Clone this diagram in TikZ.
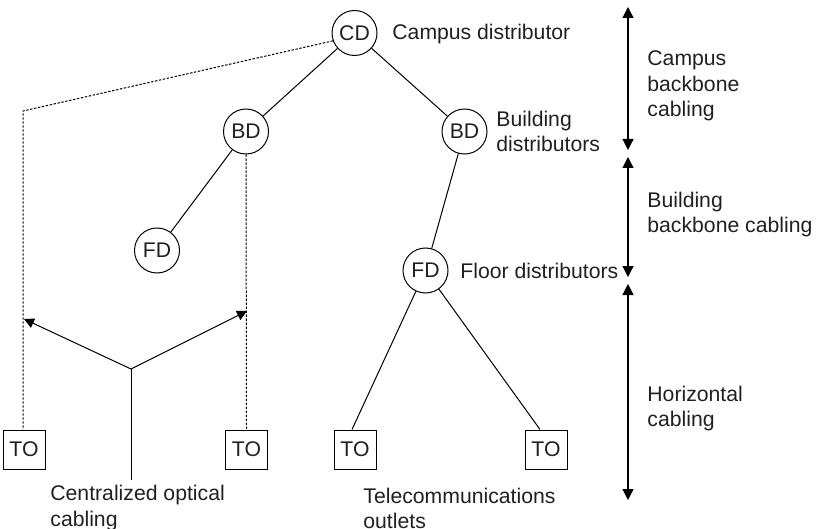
\documentclass[tikz,border=0pt]{standalone}
\usepackage{fontspec}
\setmainfont{Liberation Sans}
\usetikzlibrary{arrows.meta}
\definecolor{ink}{HTML}{231F20}
\tikzset{
  dist/.style={circle, draw, line width=0.5pt, minimum size=22.5pt, inner sep=0pt, text=ink},
  outlet/.style={rectangle, draw, line width=0.5pt, minimum width=21pt, minimum height=19.5pt, inner sep=0pt, text=ink},
  lbl/.style={anchor=west, align=left, inner sep=0pt, text=ink},
  cable/.style={line width=0.5pt},
  optical/.style={line width=0.5pt, dash pattern=on 1.2pt off 0.8pt},
  span/.style={line width=0.6pt, {Triangle[length=5.5pt,width=5.5pt]}-{Triangle[length=5.5pt,width=5.5pt]}},
  feed/.style={line width=0.5pt, -{Triangle[length=5pt,width=5pt]}}
}
\begin{document}
\begin{tikzpicture}[x=0.5pt, y=-0.5pt, font=\fontsize{10.6}{12.6}\selectfont]
\useasboundingbox (0,0) rectangle (823,529);

% distributors
\node[dist] (CD)  at (354.5,33)  {CD};
\node[dist] (BDl) at (246,131.5) {BD};
\node[dist] (BDr) at (464.5,131.5) {BD};
\node[dist] (FDl) at (157,250.5) {FD};
\node[dist] (FDr) at (425.5,270.5) {FD};

% telecommunications outlets
\node[outlet] (TO1) at (24,449.5)  {TO};
\node[outlet] (TO2) at (246.5,449.5) {TO};
\node[outlet] (TO3) at (355,449.5) {TO};
\node[outlet] (TO4) at (546,449.5) {TO};

% backbone and horizontal cabling
\draw[cable] (CD) -- (BDl);
\draw[cable] (CD) -- (BDr);
\draw[cable] (BDl) -- (FDl);
\draw[cable] (BDr) -- (FDr);
\draw[cable] (FDr) -- ([xshift=-1.5pt]TO3.north);
\draw[cable] (FDr) -- ([xshift=-3pt]TO4.north);

% centralized optical cabling
\coordinate (bend) at (23,111);
\draw[optical] (CD.200) -- (bend) -- (bend |- TO1.north);
\draw[optical] (BDl.south) -- (TO2.north);

\coordinate (J)  at (131,369);
\coordinate (Jb) at (131,480);
\coordinate (AL) at (24,319);
\coordinate (AR) at (247,311);
\draw[cable] (Jb) -- (J);
\draw[feed] (J) -- (AL);
\draw[feed] (J) -- (AR);

% labels
\node[lbl] (lCD) at (392,34) {Campus distributor};
\node[lbl] (lBD) at (496,131.5) {Building\\distributors};
\node[lbl] (lFD) at (460,271) {Floor distributors};
\node[lbl] (lOpt) at (50,508) {Centralized optical\\cabling};
\node[lbl] (lTO) at (363,508.5) {Telecommunications\\outlets};

% cabling subsystem spans
\coordinate (s1a) at (628,7);
\coordinate (s1b) at (628,150);
\coordinate (s2a) at (628,157);
\coordinate (s2b) at (628,277);
\coordinate (s3a) at (628,284);
\coordinate (s3b) at (628,500);
\draw[span] (s1a) -- (s1b);
\draw[span] (s2a) -- (s2b);
\draw[span] (s3a) -- (s3b);

\node[lbl] (lS1) at (647,86) {Campus\\backbone\\cabling};
\node[lbl] (lS2) at (647,214.5) {Building\\backbone cabling};
\node[lbl] (lS3) at (647,408.5) {Horizontal\\cabling};
\end{tikzpicture}
\end{document}
